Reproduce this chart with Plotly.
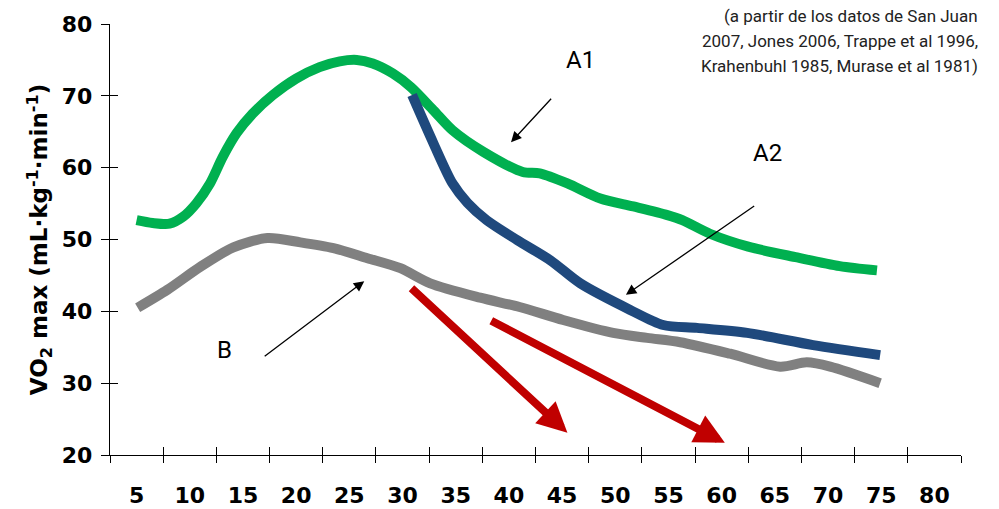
import plotly.graph_objects as go

# Age (years) and VO2 max (mL/kg/min) along each curve
age_a1 = [5.0, 6.5, 8.1, 9.4, 10.6, 11.9, 13.1, 14.4, 15.9, 17.8, 20.0, 22.2, 24.1, 25.7,
          27.2, 29.1, 30.8, 32.9, 34.7, 37.6, 41.3, 42.9, 45.5, 48.6, 51.7, 54.9, 56.3,
          58.9, 62.5, 67.1, 71.1, 74.6]
vo2_a1 = [52.7, 52.3, 52.2, 53.2, 55.0, 57.8, 61.5, 64.8, 67.5, 70.1, 72.4, 74.0, 74.8, 75.0,
          74.5, 73.1, 71.2, 68.0, 65.2, 62.2, 59.4, 59.2, 57.8, 55.7, 54.6, 53.4, 52.7,
          50.8, 49.0, 47.5, 46.3, 45.7]

age_a2 = [30.9, 32.9, 34.7, 36.1, 37.9, 40.8, 43.9, 46.7, 51.4, 54.5, 57.7, 62.4, 68.6, 74.9]
vo2_a2 = [70.1, 63.4, 57.8, 55.1, 52.7, 49.9, 47.1, 43.9, 40.2, 38.1, 37.7, 37.0, 35.3, 33.9]

age_b = [5.1, 7.9, 11.0, 14.1, 17.3, 20.4, 23.5, 26.7, 29.8, 32.6, 37.3, 41.0, 45.1, 49.8,
         53.0, 56.1, 60.8, 65.5, 68.0, 70.2, 74.9]
vo2_b = [40.5, 43.0, 46.2, 48.9, 50.2, 49.6, 48.8, 47.4, 46.0, 43.9, 41.9, 40.6, 38.8, 37.0,
         36.3, 35.7, 34.1, 32.3, 32.9, 32.3, 30.0]

x_ticks = [5, 10, 15, 20, 25, 30, 35, 40, 45, 50, 55, 60, 65, 70, 75, 80]
x_bounds = [2.5, 7.5, 12.5, 17.5, 22.5, 27.5, 32.5, 37.5, 42.5, 47.5, 52.5, 57.5, 62.5,
            67.5, 72.5, 77.5, 82.5]
y_ticks = [20, 30, 40, 50, 60, 70, 80]

source_lines = ["(a partir de los datos de San Juan",
                "2007, Jones 2006, Trappe et al 1996,",
                "Krahenbuhl 1985, Murase et al 1981)"]

X_RANGE = [2.5, 82.5]
Y_RANGE = [20, 80]

fig = go.Figure()
for xs, ys, col in [(age_b, vo2_b, "#808080"),
                    (age_a1, vo2_a1, "#00B050"),
                    (age_a2, vo2_a2, "#1F497D")]:
    fig.add_trace(go.Scatter(x=xs, y=ys, mode="lines",
                             line=dict(color=col, width=10, shape="spline", smoothing=0.8),
                             hoverinfo="skip", showlegend=False))

# empty traces so the overlay axes carrying the cross tick marks get rendered
for xa, ya in [("x2", "y"), ("x3", "y"), ("x", "y2")]:
    fig.add_trace(go.Scatter(x=[None], y=[None], xaxis=xa, yaxis=ya, mode="lines",
                             hoverinfo="skip", showlegend=False))

label_font = dict(family="DejaVu Sans", size=22, color="black", weight="bold")
common = dict(showgrid=False, zeroline=False, automargin=False)

fig.update_layout(
    width=999, height=509,
    margin=dict(l=110, r=38, t=24, b=54),
    plot_bgcolor="white", paper_bgcolor="white",
    showlegend=False,
    xaxis=dict(range=X_RANGE, tickmode="array", tickvals=x_ticks,
               ticktext=[str(v) for v in x_ticks], ticks="",
               showline=True, linecolor="black", linewidth=1.3,
               tickfont=label_font, ticklabelstandoff=20, **common),
    xaxis2=dict(range=X_RANGE, overlaying="x", anchor="y", side="bottom",
                tickmode="array", tickvals=x_bounds, ticks="outside", ticklen=7,
                tickwidth=1.3, tickcolor="black", showticklabels=False,
                showline=False, **common),
    xaxis3=dict(range=X_RANGE, overlaying="x", anchor="y", side="bottom",
                tickmode="array", tickvals=x_bounds, ticks="inside", ticklen=8,
                tickwidth=1.3, tickcolor="black", showticklabels=False,
                showline=False, **common),
    yaxis=dict(range=Y_RANGE, tickmode="array", tickvals=y_ticks, ticks="outside",
               ticklen=8, tickwidth=1.3, tickcolor="black",
               showline=True, linecolor="black", linewidth=1.3,
               tickfont=label_font, ticklabelstandoff=4,
               title=dict(text="VO<sub>2</sub> max (mL·kg<sup>-1</sup>·min<sup>-1</sup>)",
                          font=dict(family="DejaVu Sans", size=23, color="black", weight="bold"),
                          standoff=7),
               **common),
    yaxis2=dict(range=Y_RANGE, overlaying="y", anchor="x", side="left",
                tickmode="array", tickvals=y_ticks, ticks="inside", ticklen=8,
                tickwidth=1.3, tickcolor="black", showticklabels=False,
                showline=False, **common),
)

# Pointer arrows for the curve labels and the red decline arrows
arrows = [
    # (tip x, tip y, tail x, tail y, colour, width, size)
    (40.2, 63.55, 44.1, 69.8, "black", 1.3, 1.6),
    (51.0, 42.3, 63.2, 54.8, "black", 1.3, 1.6),
    (26.4, 44.2, 16.9, 33.6, "black", 1.3, 1.6),
    (45.5, 23.1, 30.7, 43.4, "#C00000", 8, 0.75),
    (60.3, 21.7, 38.2, 38.8, "#C00000", 8, 0.75),
]
for tx, ty, sx, sy, col, w, s in arrows:
    fig.add_annotation(x=tx, y=ty, ax=sx, ay=sy, xref="x", yref="y", axref="x", ayref="y",
                       text="", showarrow=True, arrowhead=2, arrowsize=s,
                       arrowwidth=w, arrowcolor=col, standoff=0, startstandoff=0)

curve_labels = [("A1", 46.7, 74.95), ("A2", 64.3, 62.0), ("B", 13.3, 34.6)]
for txt, lx, ly in curve_labels:
    fig.add_annotation(x=lx, y=ly, xref="x", yref="y", text=txt, showarrow=False,
                       font=dict(family="Roboto", size=24, color="black"))

for i, line in enumerate(source_lines):
    py = 16 + 25 * i
    fig.add_annotation(x=(980 - 110) / 851, y=(455.3 - py) / 431.6, xref="paper", yref="paper",
                       xanchor="right", yanchor="middle", text=line, showarrow=False,
                       font=dict(family="Roboto", size=17, color="#222222"))

fig.write_html("out.html")
